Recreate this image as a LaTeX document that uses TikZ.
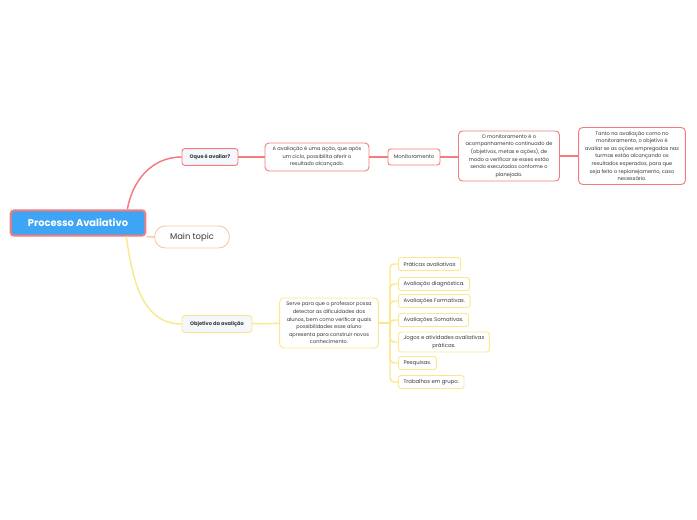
\documentclass[tikz,border=0pt]{standalone}
\usepackage{fontspec}
\setmainfont{Poppins}
\usetikzlibrary{positioning,calc}
\definecolor{rootblue}{HTML}{3DA5F4}
\definecolor{redline}{HTML}{F47C7C}
\definecolor{yelline}{HTML}{FBE88E}
\definecolor{orgline}{HTML}{FFC8A2}
\definecolor{txtgray}{HTML}{3A3A3A}
\definecolor{palefill}{HTML}{F4F7FC}
\tikzset{
  every node/.style={font=\fontsize{3.8}{5.7}\selectfont, text=txtgray, inner sep=0pt},
  rootbox/.style={draw=redline, line width=1.5pt, fill=rootblue, rounded corners=2.5pt,
    text=white, font=\fontsize{7.4}{8}\selectfont\bfseries, minimum width=101pt, minimum height=19pt},
  redtopic/.style={draw=redline, line width=0.7pt, fill=palefill, rounded corners=2pt,
    font=\fontsize{3.8}{5}\selectfont\bfseries, minimum height=12.5pt},
  yeltopic/.style={redtopic, draw=yelline},
  redbox/.style={draw=redline, line width=0.7pt, fill=white, rounded corners=3pt, align=center},
  yelbox/.style={redbox, draw=yelline},
  itembox/.style={draw=yelline, line width=0.7pt, fill=white, rounded corners=2pt,
    anchor=west, minimum height=9.75pt, inner xsep=3.8pt, align=center,
    font=\fontsize{4}{5.7}\selectfont},
  redconn/.style={draw=redline, line width=1.1pt},
  yelconn/.style={draw=yelline, line width=1.1pt},
  orgconn/.style={draw=orgline, line width=1.1pt},
}
\begin{document}
\begin{tikzpicture}[x=0.75pt,y=-0.75pt]
\useasboundingbox[fill=white] (0,0) rectangle (697,520);
% central node
\node[rootbox] (root) at (78,223) {Processo Avaliativo};
% upper branch
\node[redtopic, minimum width=42pt] (oque) at (210,157) {Oque é avaliar?};
\node[redbox, minimum width=78pt, minimum height=21pt] (avaliacao) at (317,157)
  {A avaliação é uma ação, que após\\um ciclo,  possibilita aferir o\\resultado alcançado.};
\node[redtopic, fill=white, font=\fontsize{3.9}{5}\selectfont, minimum width=39pt, minimum height=12pt] (monit) at (414,157) {Monitoramento};
\node[redbox, minimum width=75.75pt, minimum height=37.5pt] (monitdef) at (509,156)
  {O monitoramento é o\\acompanhamento continuado de\\(objetivos, metas e ações), de\\modo a verificar se esses estão\\sendo executados conforme o\\planejado.};
\node[redbox, minimum width=80pt, minimum height=42.75pt] (tanto) at (632,156)
  {Tanto na avaliação como no\\monitoramento, o objetivo é\\avaliar se as ações empregadas nas\\turmas  estão alcançando os\\resultados esperados, para que\\seja feito o replanejamento, caso\\necessário.};
% middle
\node[draw=orgline, line width=0.7pt, fill=white, rounded corners=8pt, minimum width=56pt,
  minimum height=16.5pt, font=\fontsize{6.3}{7}\selectfont] (maintopic) at (192,237) {Main topic};
% lower branch
\node[yeltopic, minimum width=52.5pt] (objetivo) at (217,324) {Objetivo da avalição};
\node[yelbox, minimum width=74pt, minimum height=37.5pt] (serve) at (329,323)
  {Serve para que o professor possa\\detectar as dificuldades dos\\alunos, bem como verificar quais\\possibilidades esse aluno\\apresenta para construir novos\\conhecimento.};
\node[itembox] (it1) at (398,264) {Práticas avaliativas};
\node[itembox] (it2) at (398,284) {Avaliação  diagnóstica.};
\node[itembox] (it3) at (398,301) {Avaliações Formativas.};
\node[itembox] (it4) at (398,320) {Avaliações Somativas.};
\node[itembox, minimum height=15pt] (it5) at (398,342) {Jogos e atividades avaliativas\\práticas.};
\node[itembox] (it6) at (398,363) {Pesquisas.};
\node[itembox] (it7) at (398,382) {Trabalhos em grupo.};
\coordinate (fork) at (390,323);
% connectors
\draw[redconn] ($(root.north east)+(-19,0)$) to[out=80,in=180] (oque.west);
\draw[redconn] (oque) -- (avaliacao);
\draw[redconn] (avaliacao) -- (monit);
\draw[redconn] (monit) -- (monitdef.west |- monit);
\draw[redconn] (monitdef) -- (tanto);
\draw[orgconn] (root.south east) -- (maintopic.west);
\draw[yelconn] ($(root.south east)+(-20,0)$) to[out=-82,in=180] (objetivo.west);
\draw[yelconn] (objetivo) -- (serve);
\draw[yelconn] (serve) -- (fork);
\foreach \i in {1,...,7}
  \draw[yelconn, rounded corners=3pt] (fork) |- (it\i.west);
\end{tikzpicture}
\end{document}
